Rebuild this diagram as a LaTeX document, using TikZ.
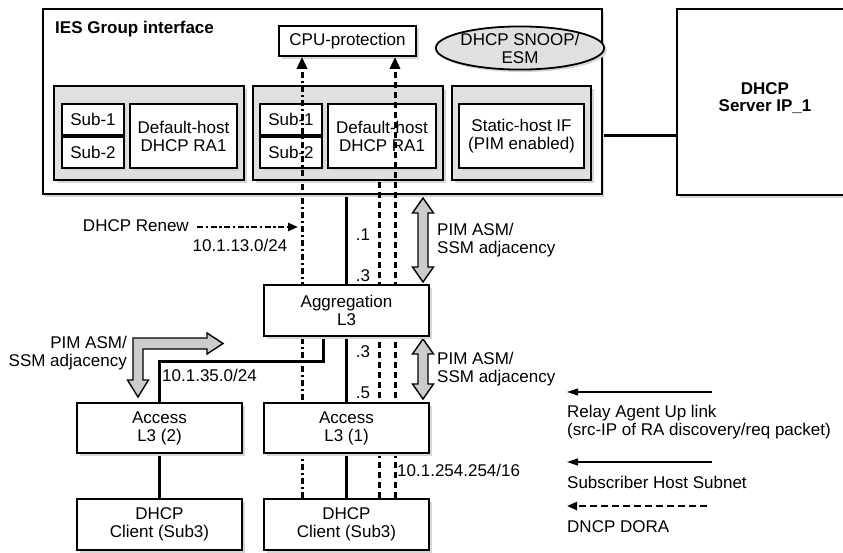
\documentclass[tikz,border=0pt]{standalone}
\usepackage{fontspec}
\setmainfont{Liberation Sans}
\usetikzlibrary{arrows.meta,shapes.geometric,shadows}
\pgfdeclarelayer{bg}
\pgfdeclarelayer{fg}
\pgfsetlayers{bg,main,fg}
\newcommand\pimarrow[3]{%
  \draw[pim] (#1,#2) -- (#1+10.5,#2+15) -- (#1+5,#2+15) -- (#1+5,#3-15) -- (#1+10.5,#3-15)
    -- (#1,#3) -- (#1-10.5,#3-15) -- (#1-5,#3-15) -- (#1-5,#2+15) -- (#1-10.5,#2+15) -- cycle;}
\begin{document}
\begin{tikzpicture}[x=1pt,y=-1pt,
  font=\fontsize{17}{18}\selectfont,
  shd/.style={drop shadow={shadow xshift=2.5pt,shadow yshift=-2.5pt,fill=black!16,opacity=1}},
  box/.style={draw,line width=1.8pt,fill=white,shd,inner sep=0pt,align=center},
  grp/.style={draw,line width=1.8pt,fill=black!12,shd,inner sep=0pt},
  conn/.style={line width=3pt},
  ddot/.style={line width=3pt,dash pattern=on 6.5pt off 2.5pt on 2.5pt off 2.5pt},
  dsh/.style={line width=3pt,dash pattern=on 6.5pt off 3.5pt},
  tipup/.style={-{Triangle[length=12pt,width=10pt]}},
  pim/.style={draw,line width=1.4pt,fill=black!20,line join=miter},
  lbl/.style={inner sep=0pt,align=left},
  legtip/.style={-{Triangle[length=11pt,width=7pt]}}
]
\useasboundingbox (0,0) rectangle (843,552);

% main boxes
\node[box,line width=2.6pt,minimum width=559pt,minimum height=185pt] (ies) at (322.3,101.5) {};
\node[box,line width=2.6pt,minimum width=183pt,minimum height=186pt] (server) at (768.5,102) {};
\node[inner sep=0pt,align=center,font=\bfseries\fontsize{17}{17}\selectfont] (servertxt) at (765,98) {DHCP\\Server IP\_1};
\node[anchor=base west,inner sep=0pt,font=\bfseries\fontsize{17}{18}\selectfont] (iestitle) at (55,33) {IES Group interface};

\node[box,minimum width=137pt,minimum height=30pt] (cpu) at (347.5,41) {CPU-protection};
\node[ellipse,draw,line width=1.8pt,fill=black!12,shd,inner sep=0pt,minimum width=146pt,minimum height=42pt,align=center] (snoop) at (520,48) {DHCP SNOOP/\\ESM};

% groups
\node[grp,minimum width=190pt,minimum height=94pt] (g1) at (149,133) {};
\node[grp,minimum width=190pt,minimum height=94pt] (g2) at (348,133) {};
\node[grp,minimum width=139pt,minimum height=94pt] (g3) at (521.5,133) {};

\node[box,minimum width=62pt,minimum height=31pt] (s1a) at (93,119.5) {Sub-1};
\node[box,minimum width=62pt,minimum height=31pt] (s2a) at (93,152.5) {Sub-2};
\node[box,minimum width=107pt,minimum height=64pt] (dha) at (183.5,136) {Default-host\\DHCP RA1};
\node[box,minimum width=62pt,minimum height=31pt] (s1b) at (291,119.5) {Sub-1};
\node[box,minimum width=62pt,minimum height=31pt] (s2b) at (291,152.5) {Sub-2};
\node[box,minimum width=108pt,minimum height=64pt] (dhb) at (382,136) {Default-host\\DHCP RA1};
\node[box,minimum width=125pt,minimum height=64pt] (stat) at (521.5,136) {Static-host IF\\(PIM enabled)};

% lower boxes (in front of the flow lines)
\begin{pgfonlayer}{fg}
\node[box,minimum width=165pt,minimum height=51pt] (agg) at (346.5,310.5) {Aggregation\\L3};
\node[box,minimum width=165pt,minimum height=50pt] (acc2) at (159.5,428) {Access\\L3 (2)};
\node[box,minimum width=165pt,minimum height=50pt] (acc1) at (346.5,428) {Access\\L3 (1)};
\node[box,minimum width=165pt,minimum height=51pt] (cli1) at (159.5,524.5) {DHCP\\Client (Sub3)};
\node[box,minimum width=165pt,minimum height=51pt] (cli2) at (346.5,524.5) {DHCP\\Client (Sub3)};
\end{pgfonlayer}

% helper coordinates
\coordinate (xdd) at (302,0);
\coordinate (xda) at (379,0);
\coordinate (xdb) at (395,0);
\coordinate (srvlink) at (0,135);
\coordinate (bendpt) at (323,361);

% solid links (behind boxes)
\begin{pgfonlayer}{bg}
\draw[conn] (ies.east |- srvlink) -- (server.west |- srvlink);
\draw[conn] (ies.south -| agg.north) -- (agg.north);
\draw[conn] (agg.south) -- (acc1.north);
\draw[conn] (acc1.south) -- (cli2.north);
\draw[conn] (agg.south -| bendpt) -- (bendpt) -| (acc2.north);
\draw[conn] (acc2.south) -- (cli1.north);
\end{pgfonlayer}

% DHCP flows
\draw[ddot,tipup] (cli2.north -| xdd) -- (cpu.south -| xdd);
\draw[dsh,tipup] (cli2.north -| xdb) -- (cpu.south -| xdb);
\draw[dsh] (cli2.north -| xda) -- (g2.south -| xda);

% DHCP renew
\node[lbl,anchor=east] (renew) at (189,226) {DHCP Renew};
\coordinate (renewstart) at (197,227);
\coordinate (renewend) at (298,227);
\draw[line width=2.6pt,dash pattern=on 6pt off 2.5pt on 2.5pt off 2.5pt,-{Triangle[length=10pt,width=8pt]}] (renewstart) -- (renewend);
\node[lbl] (net13) at (240,245) {10.1.13.0/24};

% interface labels
\node[lbl] (d1) at (363,235) {.1};
\node[lbl] (d3a) at (363,276) {.3};
\node[lbl] (d3b) at (363,352) {.3};
\node[lbl] (d5) at (363,393) {.5};
\node[lbl,anchor=west] (net35) at (162,375) {10.1.35.0/24};
\node[lbl,anchor=west] (net254) at (397,470) {10.1.254.254/16};

% PIM adjacency arrows
\pimarrow{423}{198}{282}
\pimarrow{423}{339}{399}
\draw[pim] (133,380) -- (133,338) -- (207,338) -- (207,333) -- (223,343.5) -- (207,354) -- (207,349)
  -- (143,349) -- (143,380) -- (148.5,380) -- (138,397) -- (127.5,380) -- cycle;
\node[lbl,anchor=west] (pim1) at (437,240.5) {PIM ASM/\\SSM adjacency};
\node[lbl,anchor=west] (pim2) at (437,369) {PIM ASM/\\SSM adjacency};
\node[lbl,anchor=east,align=right] (pim3) at (127,353.5) {PIM ASM/\\SSM adjacency};

% legend
\coordinate (l1s) at (712,392); \coordinate (l1e) at (567,392);
\coordinate (l2s) at (712,462); \coordinate (l2e) at (567,462);
\coordinate (l3s) at (707,506); \coordinate (l3e) at (567,506);
\draw[line width=1.2pt,legtip] (l1s) -- (l1e);
\draw[line width=1.2pt,legtip] (l2s) -- (l2e);
\draw[line width=2.4pt,dash pattern=on 7pt off 4pt,-{Triangle[length=10pt,width=8pt]}] (l3s) -- (l3e);
\node[lbl,anchor=west] (leg1) at (567,422.5) {Relay Agent Up link\\(src-IP of RA discovery/req packet)};
\node[lbl,anchor=west] (leg2) at (567,482) {Subscriber Host Subnet};
\node[lbl,anchor=west] (leg3) at (567,527) {DNCP DORA};
\end{tikzpicture}
\end{document}
